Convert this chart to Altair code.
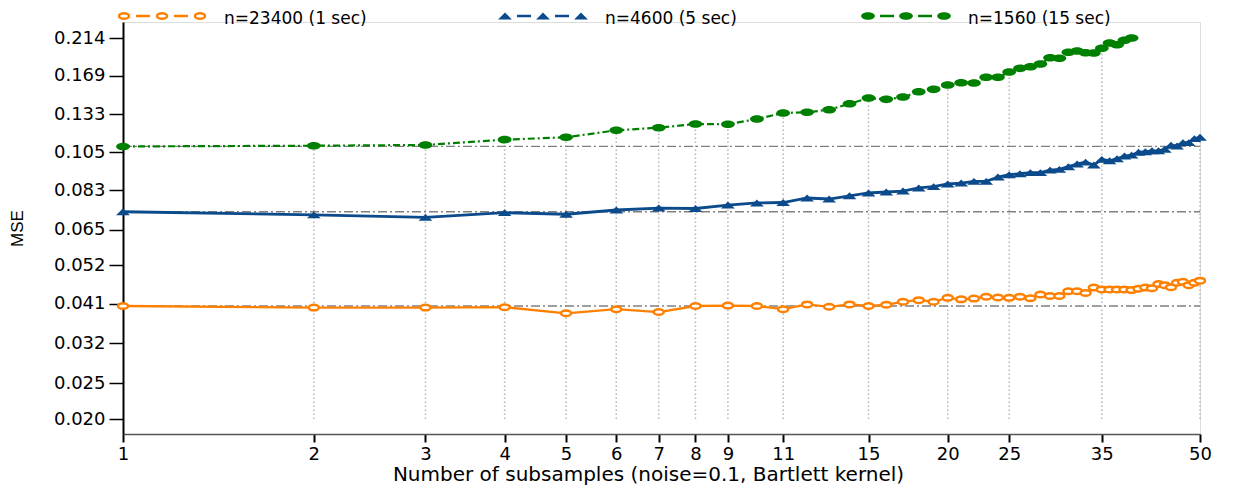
import altair as alt
import pandas as pd

# ---------------- data ----------------
x_vals = list(range(1, 51))

mse_1sec = [0.0404, 0.0400, 0.0400, 0.0401, 0.0386, 0.0396, 0.0389, 0.0404, 0.0405, 0.0404,
            0.0396, 0.0408, 0.0402, 0.0408, 0.0404, 0.0407, 0.0415, 0.0419, 0.0415, 0.0425,
            0.0421, 0.0423, 0.0428, 0.0426, 0.0425, 0.0428, 0.0424, 0.0434, 0.0430, 0.0430,
            0.0443, 0.0443, 0.0438, 0.0453, 0.0448, 0.0448, 0.0448, 0.0448, 0.0446, 0.0450,
            0.0453, 0.0451, 0.0463, 0.0460, 0.0454, 0.0467, 0.0470, 0.0460, 0.0467, 0.0473]

mse_5sec = [0.0726, 0.0712, 0.0701, 0.0722, 0.0715, 0.0734, 0.0743, 0.0741, 0.0757, 0.0767,
            0.0769, 0.0791, 0.0786, 0.0802, 0.0816, 0.0821, 0.0826, 0.0842, 0.0849, 0.0863,
            0.0868, 0.0877, 0.0877, 0.0901, 0.0914, 0.0920, 0.0926, 0.0926, 0.0941, 0.0945,
            0.0961, 0.0977, 0.0989, 0.0971, 0.1006, 0.0997, 0.1010, 0.1027, 0.1033, 0.1051,
            0.1055, 0.1061, 0.1061, 0.1071, 0.1098, 0.1093, 0.1116, 0.1116, 0.1144, 0.1154]

mse_15sec = [0.1090, 0.1095, 0.1100, 0.1137, 0.1154, 0.1205, 0.1225, 0.1253, 0.1251, 0.1293,
             0.1342, 0.1348, 0.1370, 0.1422, 0.1473, 0.1461, 0.1482, 0.1532, 0.1555, 0.1597,
             0.1620, 0.1617, 0.1676, 0.1676, 0.1732, 0.1772, 0.1790, 0.1820, 0.1893, 0.1886,
             0.1958, 0.1974, 0.1953, 0.1949, 0.2007, 0.2074, 0.2052, 0.2109, 0.2140]

series_labels = ["n=23400 (1 sec)", "n=4600 (5 sec)", "n=1560 (15 sec)"]
x_ticks = [1, 2, 3, 4, 5, 6, 7, 8, 9, 11, 15, 20, 25, 35, 50]
y_ticks = [0.020, 0.025, 0.032, 0.041, 0.052, 0.065, 0.083, 0.105, 0.133, 0.169, 0.214]
grid_bottom = 0.020

# ---------------- styles ----------------
ORANGE = "#FF8000"
BLUE = "#0B4A8B"
GREEN = "#008000"
ELLIPSE = "M-1,0A1,0.55,0,1,1,1,0A1,0.55,0,1,1,-1,0Z"
TRIANGLE = "M-1,0.5L1,0.5L0,-0.5Z"
FONT = "DejaVu Sans"
SIZE_G = 190
SIZE_B = 190
SIZE_O = 100

df_o = pd.DataFrame({"x": x_vals[:len(mse_1sec)], "mse": mse_1sec})
df_b = pd.DataFrame({"x": x_vals[:len(mse_5sec)], "mse": mse_5sec})
df_g = pd.DataFrame({"x": x_vals[:len(mse_15sec)], "mse": mse_15sec})

xs = alt.Scale(type="log", domain=[1, 50], nice=False)
ys = alt.Scale(type="log", domain=[0.01822, 0.2364], nice=False)

x_axis = alt.Axis(values=x_ticks, format="d", grid=False, labelOverlap=False, labelFlush=False,
                  domainColor="#555555", domainWidth=1.5, tickColor="black", tickWidth=2,
                  tickSize=8, labelPadding=3, labelFont=FONT, labelFontSize=18, labelColor="black",
                  titleFont=FONT, titleFontSize=20, titleFontWeight="normal", titleColor="black",
                  titleX=525, titleY=40, titleAlign="center", titleBaseline="middle")
y_axis = alt.Axis(values=y_ticks, format=".3f", grid=False, labelOverlap=False, labelFlush=False,
                  domainColor="black", domainWidth=2, tickColor="black", tickWidth=1.5,
                  tickSize=14, labelPadding=4, labelFont=FONT, labelFontSize=18, labelColor="black",
                  titleFont="Liberation Sans", titleFontSize=17, titleFontWeight="normal",
                  titleColor="black", titleX=-106, titleY=206, titleAngle=270,
                  titleAlign="center", titleBaseline="middle")


def X(field):
    return alt.X(f"{field}:Q", scale=xs, axis=x_axis,
                 title="Number of subsamples (noise=0.1, Bartlett kernel)")


def Y(field):
    return alt.Y(f"{field}:Q", scale=ys, axis=y_axis, title="MSE")


# vertical dotted drop lines at tick positions, up to the highest series value there
all_series = [mse_1sec, mse_5sec, mse_15sec]
grid_rows = []
for t in x_ticks[1:]:
    tops = [s[t - 1] for s in all_series if t - 1 < len(s)]
    grid_rows.append({"x": t, "y0": grid_bottom, "y1": max(tops)})
df_grid = pd.DataFrame(grid_rows)

grid = alt.Chart(df_grid).mark_rule(color="#b5b5b5", strokeWidth=1.5, strokeDash=[1.5, 2.5]).encode(
    x=X("x"), y=Y("y0"), y2="y1")

# horizontal dash-dot reference lines at each series' first value
df_ref = pd.DataFrame({"x0": [x_vals[0]] * 3, "x1": [x_vals[-1]] * 3,
                       "y": [mse_1sec[0], mse_5sec[0], mse_15sec[0]]})
refs = alt.Chart(df_ref).mark_rule(color="#808080", strokeWidth=1.3, strokeDash=[9, 3, 2, 3]).encode(
    x=X("x0"), x2="x1", y=Y("y"))

line_o = alt.Chart(df_o).mark_line(color=ORANGE, strokeWidth=2.3).encode(x=X("x"), y=Y("mse"))
line_b = alt.Chart(df_b).mark_line(color=BLUE, strokeWidth=2.8).encode(x=X("x"), y=Y("mse"))
line_g = alt.Chart(df_g).mark_line(color=GREEN, strokeWidth=2.2, strokeDash=[7, 3, 2, 3]).encode(
    x=X("x"), y=Y("mse"))

pt_o = alt.Chart(df_o).mark_point(shape=ELLIPSE, size=SIZE_O, filled=True, fill="white", stroke=ORANGE,
                                  strokeWidth=2.5, opacity=1).encode(x=X("x"), y=Y("mse"))
pt_b = alt.Chart(df_b).mark_point(shape=TRIANGLE, size=SIZE_B, filled=True, color=BLUE,
                                  opacity=1).encode(x=X("x"), y=Y("mse"))
pt_g = alt.Chart(df_g).mark_point(shape=ELLIPSE, size=SIZE_G, filled=True, color=GREEN,
                                  opacity=1).encode(x=X("x"), y=Y("mse"))

# ---------------- manual legend (pixel layout above the plot) ----------------
one = pd.DataFrame({"k": [0]})
legend_layers = []
leg_specs = [
    (ORANGE, 1, dict(shape=ELLIPSE, size=SIZE_O, filled=True, fill="white", stroke=ORANGE, strokeWidth=2.5)),
    (BLUE, 382, dict(shape=TRIANGLE, size=SIZE_B, filled=True, color=BLUE)),
    (GREEN, 745, dict(shape=ELLIPSE, size=SIZE_G, filled=True, color=GREEN)),
]
LEG_Y = -6
for (col, x0, pkw), lab in zip(leg_specs, series_labels):
    mx = [x0, x0 + 38, x0 + 76]
    for a, b in [(mx[0], mx[1]), (mx[1], mx[2])]:
        mid = (a + b) / 2
        legend_layers.append(alt.Chart(one).mark_rule(color=col, strokeWidth=2.5).encode(
            x=alt.value(mid - 7), x2=alt.value(mid + 7), y=alt.value(LEG_Y)))
    for m in mx:
        legend_layers.append(alt.Chart(one).mark_point(opacity=1, **pkw).encode(
            x=alt.value(m), y=alt.value(LEG_Y)))
    legend_layers.append(alt.Chart(one).mark_text(text=lab, align="left", baseline="middle",
                                                  font=FONT, fontSize=17, color="black").encode(
        x=alt.value(x0 + 100), y=alt.value(-3)))

chart = alt.layer(grid, refs, line_o, line_b, line_g, pt_o, pt_b, pt_g, *legend_layers).properties(
    width=1077, height=412,
    autosize=alt.AutoSizeParams(type="none"),
    padding={"left": 115, "top": 14, "right": 32, "bottom": 58},
).configure_view(strokeWidth=0).configure(background="white")

chart.save("out.html", embed_options={"renderer": "svg", "actions": False})
